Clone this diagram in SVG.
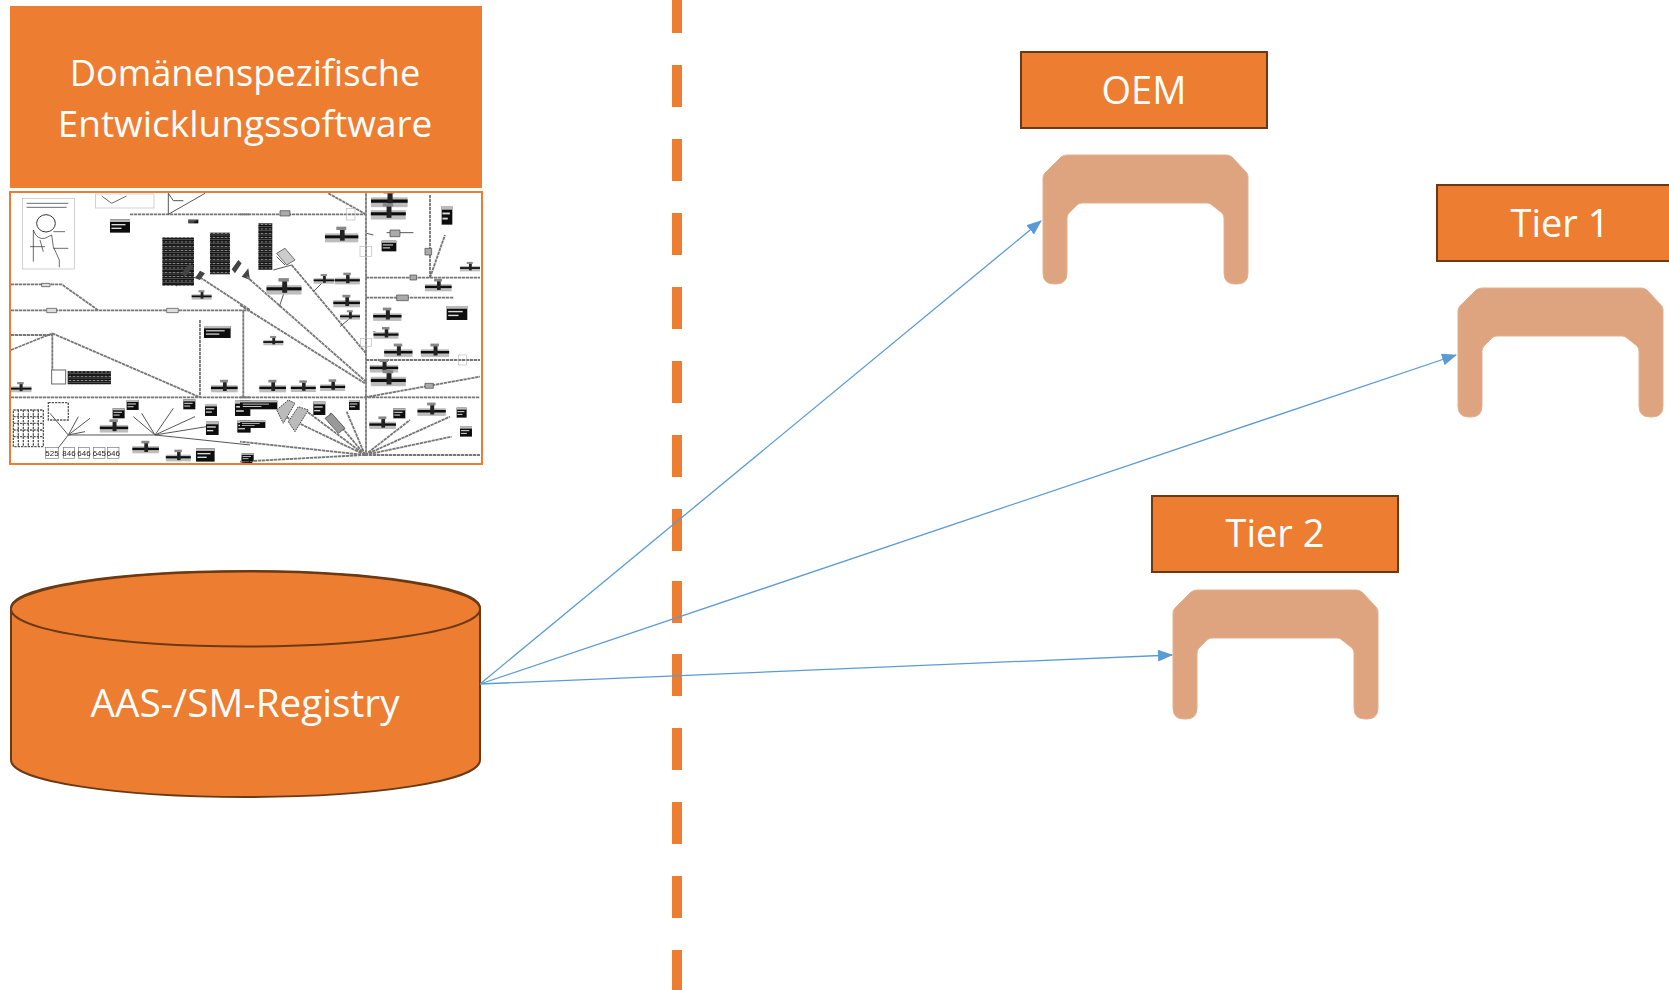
<svg xmlns="http://www.w3.org/2000/svg" width="1669" height="990" viewBox="0 0 1669 990">
<style>
.t{font-family:"Open Sans","Noto Sans",sans-serif;font-size:38px;fill:#fff;text-anchor:middle}
.box{fill:#ed7d31;stroke:#6b3a14;stroke-width:2}
.br{fill:#dda47f;stroke:#e3b08f;stroke-width:1}
.conn{fill:none;stroke:#5b9bd5;stroke-width:1.3;marker-end:url(#ah)}
.w{fill:none;stroke:#777;stroke-width:5.500;stroke-dasharray:10 2}
.w2{fill:none;stroke:#555;stroke-width:3}
.k{fill:none;stroke:#222;stroke-width:2}
.o{fill:#fff;stroke:#bbb;stroke-width:2}
.d{font-family:"Liberation Sans",sans-serif;font-size:24px;fill:#222;text-anchor:middle}
</style>
<defs>
<marker id="ah" markerUnits="userSpaceOnUse" markerWidth="15" markerHeight="12" refX="14" refY="6" orient="auto"><path d="M0 0L15 6L0 12Z" fill="#5b9bd5"/></marker>
<path id="bracket" d="M1043 178Q1043 175 1045 173L1061 157Q1064 155 1067 155H1226Q1229 155 1232 157L1246 172Q1248 174 1248 177V273Q1248 284 1237 284H1235Q1224 284 1224 273V218Q1224 215 1222 213L1212 205Q1210 203 1207 203H1082Q1079 203 1077 205L1069 213Q1067 215 1067 218V273Q1067 284 1056 284H1054Q1043 284 1043 273Z"/>
<g id="s"><rect x="-50" y="-12" width="100" height="27" fill="#bdbdbd"/><rect x="-50" y="-6" width="100" height="9" fill="#111"/><rect x="-5" y="-24" width="14" height="34" fill="#222"/><rect x="-16" y="-32" width="30" height="10" fill="#888"/></g>
<g id="l"><rect width="40" height="40" fill="#111"/><rect width="40" height="8" fill="#bbb"/><rect x="3" y="14" width="28" height="4" fill="#ddd"/><rect x="3" y="25" width="20" height="4" fill="#ddd"/></g>
<pattern id="stripes" width="12" height="13" patternUnits="userSpaceOnUse"><rect width="12" height="13" fill="#111"/><rect x="2" y="3" width="8" height="2" fill="#ccc"/><rect y="9" width="12" height="1.5" fill="#999"/></pattern>
<filter id="soft" x="-2%" y="-2%" width="104%" height="104%"><feGaussianBlur stdDeviation="0.45"/></filter>
<clipPath id="pic"><rect x="11" y="193" width="470" height="270"/></clipPath>
</defs>
<g id="divider" fill="#ed7d31"><rect x="672" y="-9" width="10" height="42"/><rect x="672" y="65" width="10" height="42"/><rect x="672" y="139" width="10" height="42"/><rect x="672" y="213" width="10" height="42"/><rect x="672" y="287" width="10" height="42"/><rect x="672" y="361" width="10" height="42"/><rect x="672" y="435" width="10" height="42"/><rect x="672" y="509" width="10" height="42"/><rect x="672" y="581" width="10" height="42"/><rect x="672" y="654" width="10" height="42"/><rect x="672" y="728" width="10" height="42"/><rect x="672" y="802" width="10" height="42"/><rect x="672" y="876" width="10" height="42"/><rect x="672" y="950" width="10" height="40"/></g>
<g id="domain-box"><rect x="10" y="6" width="472" height="182" fill="#ed7d31"/><text class="t" x="245" y="86" style="font-size:36.200px">Domänenspezifische</text><text class="t" x="245" y="137" style="font-size:37px">Entwicklungssoftware</text></g>
<g id="drawing"><rect x="10" y="192" width="472" height="272" fill="#fff" stroke="#ed7d31" stroke-width="2"/>
<g clip-path="url(#pic)"><g filter="url(#soft)">
<g transform="translate(0 180) scale(.3333)">
<path class="w" d="M390 103H750M33 313H185L295 391M33 391H750M600 292L750 390M157 460L600 652M33 510L157 460M33 465H157M157 460V575M600 420V652M730 391V650M33 652H750"/>
<path class="w2" d="M205 765H465L750 795M205 765L150 700M205 765L235 710M205 765L270 715M205 765L170 810M205 765L255 755M465 765L400 710M465 765L425 700M465 765L520 685M465 765L585 710M465 765L620 740M505 40V103L615 40M505 40L520 62H550M528 318L590 290"/>
<rect class="o" x="68" y="55" width="155" height="212"/><ellipse cx="138" cy="130" rx="28" ry="26" fill="#fff" stroke="#333" stroke-width="3"/><path class="k" d="M100 245V150Q110 180 135 175L155 165L160 200L178 240V262M90 200H135M80 70H205M80 82H200M120 180L130 215M160 155H195M160 205H205"/>
<rect class="o" x="287" y="42" width="175" height="42"/><path class="k" d="M305 48L335 70L380 48"/>
<use href="#l" transform="translate(330 118) scale(1.500 1)"/><use href="#l" transform="translate(380 660) scale(.9 .75)"/><use href="#l" transform="translate(338 685) scale(.9 .75)"/><use href="#l" transform="translate(550 658) scale(.9 .75)"/><use href="#l" transform="translate(615 672) scale(.9 .9)"/><use href="#l" transform="translate(618 725) scale(.95 1)"/><use href="#l" transform="translate(705 662) scale(1.150)"/><use href="#l" transform="translate(712 722) scale(1 .9)"/><use href="#l" transform="translate(588 805) scale(1.400 1)"/><use href="#l" transform="translate(612 438) scale(2 .9)"/><use href="#l" transform="translate(565 118) scale(.75 .3)"/><use href="#l" transform="translate(725 830) scale(.8 .5)"/>
<rect x="487" y="172" width="95" height="145" fill="url(#stripes)"/><rect x="630" y="158" width="60" height="125" fill="url(#stripes)"/><rect x="203" y="573" width="130" height="40" fill="url(#stripes)"/>
<use href="#s" transform="translate(605 350) scale(.6)"/><use href="#s" transform="translate(62 627) scale(.65)"/><use href="#s" transform="translate(673 625) scale(.8)"/><use href="#s" transform="translate(342 745) scale(.85)"/><use href="#s" transform="translate(437 808) scale(.8)"/><use href="#s" transform="translate(535 833) scale(.75)"/>
<path d="M545 280L570 250L580 260L555 290ZM585 295L600 272L615 280L600 300ZM695 268L715 240L725 250L705 280ZM725 290L745 265L750 300Z" fill="#444"/>
<path d="M125 310H150V320H125ZM140 385H170V398H140ZM500 385H535V398H500Z" fill="#ddd" stroke="#444" stroke-width="2"/>
<rect x="155" y="570" width="42" height="42" fill="#fff" stroke="#666" stroke-width="3"/>
<path d="M40 690H130V800H40ZM145 668H205V720H145ZM55 690V800M70 690V800M85 690V800M100 690V800M115 690V800M40 710H130M40 730H130M40 750H130M40 770H130" fill="none" stroke="#555" stroke-width="4" stroke-dasharray="7 3"/>
<g fill="#fff" stroke="#777" stroke-width="2"><rect x="137" y="803" width="38" height="32"/><rect x="190" y="803" width="34" height="32"/><rect x="235" y="803" width="34" height="32"/><rect x="281" y="803" width="34" height="32"/><rect x="323" y="803" width="34" height="32"/></g>
<text class="d" x="156" y="828">525</text><text class="d" x="207" y="828">846</text><text class="d" x="252" y="828">646</text><text class="d" x="298" y="828">645</text><text class="d" x="340" y="828">646</text>
</g>
<g transform="translate(240 180) scale(.3333)">
<path class="w" d="M378 40V825M0 103H378M378 293H720M378 353H640M378 540H720M375 652L720 590M0 652H720M570 45V293M570 293L615 165M155 255L378 520M20 290L378 605M0 375L378 612M265 40L378 103M375 825L0 785M375 825L115 700M375 825L195 690M375 825L270 700M375 825L320 695M375 825L510 720M375 825L630 710M375 825L635 770M375 825L0 845M375 825H720"/>
<path class="w2" d="M100 270L155 255M380 160L400 165M520 158H470M440 158H480M118 380L135 330M220 335L250 305M300 440L330 415M400 455L420 460M135 255L110 230"/>
<rect x="55" y="130" width="42" height="140" fill="url(#stripes)"/>
<use href="#l" transform="translate(620 378) scale(1.550 1.050)"/><use href="#l" transform="translate(605 78) scale(.8 1.400)"/><use href="#l" transform="translate(425 182) scale(1.100 .8)"/><use href="#l" transform="translate(220 665) scale(.9 1)"/><use href="#l" transform="translate(327 660) scale(.8 .75)"/><use href="#l" transform="translate(460 685) scale(.9 .75)"/><use href="#l" transform="translate(650 683) scale(.75)"/><use href="#l" transform="translate(660 740) scale(.9 .75)"/><use href="#l" transform="translate(0 662) scale(2.800 .65)"/><use href="#l" transform="translate(0 722) scale(1.900 .55)"/><use href="#l" transform="translate(5 820) scale(.9 .6)"/>
<use href="#s" transform="translate(448 65) scale(1.100)"/><use href="#s" transform="translate(445 103) scale(1.050)"/><use href="#s" transform="translate(305 172)"/><use href="#s" transform="translate(132 328) scale(1.050)"/><use href="#s" transform="translate(252 302) scale(.62)"/><use href="#s" transform="translate(322 302) scale(.75)"/><use href="#s" transform="translate(320 370) scale(.8)"/><use href="#s" transform="translate(330 410) scale(.6)"/><use href="#s" transform="translate(442 410) scale(.85)"/><use href="#s" transform="translate(438 465) scale(.75)"/><use href="#s" transform="translate(475 518) scale(.85)"/><use href="#s" transform="translate(585 518) scale(.85)"/><use href="#s" transform="translate(432 565) scale(.85)"/><use href="#s" transform="translate(445 603) scale(1.050)"/><use href="#s" transform="translate(100 487) scale(.6)"/><use href="#s" transform="translate(98 625) scale(.8)"/><use href="#s" transform="translate(190 625) scale(.75)"/><use href="#s" transform="translate(278 622) scale(.75)"/><use href="#s" transform="translate(595 322) scale(.8)"/><use href="#s" transform="translate(690 265) scale(.6)"/><use href="#s" transform="translate(428 735) scale(.8)"/><use href="#s" transform="translate(575 695) scale(.85)"/>
<path d="M110 220L135 205L165 240L140 255Z" fill="#ccc" stroke="#333" stroke-width="2"/>
<path d="M110 690L145 660L165 670L130 730ZM145 725L175 680L205 690L165 755Z" fill="#bbb" stroke="#444" stroke-width="3" stroke-dasharray="5 3"/>
<path d="M255 715L275 700L315 745L295 760Z" fill="#999" stroke="#333" stroke-width="2"/>
<g fill="none" stroke="#bbb" stroke-width="2"><rect x="320" y="85" width="25" height="35"/><rect x="360" y="200" width="35" height="30"/><rect x="362" y="475" width="32" height="25"/><rect x="655" y="525" width="25" height="30"/></g>
<path d="M450 150H480V170H450ZM510 285H530V300H510ZM470 345H505V362H470ZM555 610H580V625H555ZM120 92H150V108H120ZM555 205H575V225H555Z" fill="#aaa" stroke="#444" stroke-width="2"/>
</g></g></g></g>
<g id="registry"><path class="box" d="M11 608C11 587 116 571 245.500 571C375 571 480 587 480 608V760C480 781 375 797 245.500 797C116 797 11 781 11 760Z"/><ellipse cx="245.500" cy="609" rx="234.500" ry="37.500" fill="none" stroke="#6b3a14" stroke-width="2"/><text class="t" x="245" y="717" style="font-size:38.700px">AAS-/SM-Registry</text></g>
<g id="oem"><rect class="box" x="1021" y="52" width="246" height="76"/><text class="t" x="1144" y="104">OEM</text><use href="#bracket" class="br"/></g>
<g id="tier1"><rect class="box" x="1437" y="185" width="250" height="76"/><text class="t" x="1560" y="237">Tier 1</text><use href="#bracket" class="br" transform="translate(415 133)"/></g>
<g id="tier2"><rect class="box" x="1152" y="496" width="246" height="76"/><text class="t" x="1275" y="547">Tier 2</text><use href="#bracket" class="br" transform="translate(130 435)"/></g>
<g id="connectors"><path class="conn" d="M480 684L1041 221"/><path class="conn" d="M480 684L1456 355"/><path class="conn" d="M480 684L1172 655"/></g>
</svg>
